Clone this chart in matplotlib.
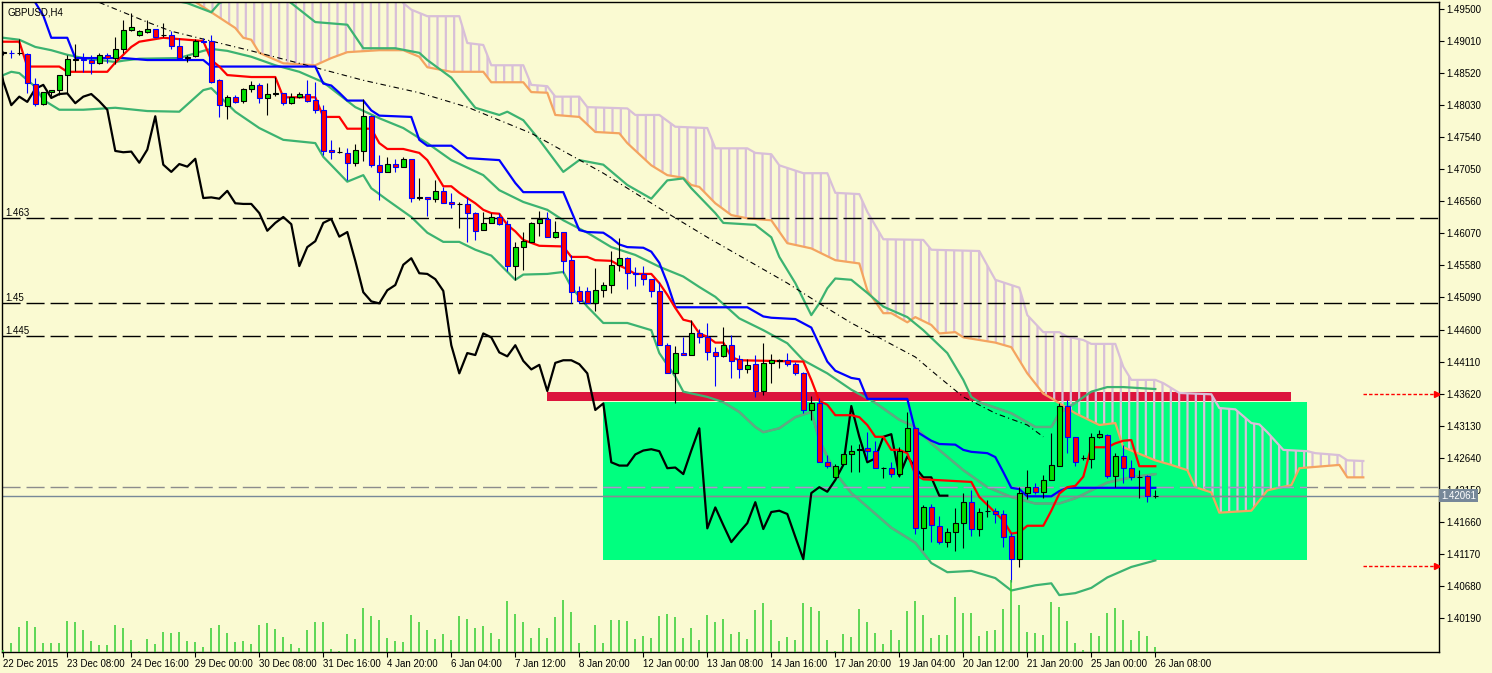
import numpy as np
import matplotlib
matplotlib.use("Agg")
import matplotlib.pyplot as plt
from matplotlib.patches import Rectangle
from matplotlib.transforms import blended_transform_factory

plt.rcParams['font.family'] = ['Liberation Sans', 'DejaVu Sans']
plt.rcParams['hatch.linewidth'] = 1.6
plt.rcParams['hatch.color'] = '#D8BFD8'

# ---- GBPUSD H4 candles (22 Dec 2015 00:00 .. 26 Jan 2016 08:00) ----
opens = [1.4883, 1.4883, 1.4882, 1.4881, 1.4836, 1.4805, 1.4823, 1.4826, 1.4849, 1.4872,
         1.4873, 1.4872, 1.4868, 1.4880, 1.4875, 1.4889, 1.4918, 1.4910, 1.4915, 1.4920,
         1.4910, 1.4910, 1.4894, 1.4875, 1.4878, 1.4901, 1.4901, 1.4842, 1.4802, 1.4816,
         1.4809, 1.4828, 1.4834, 1.4814, 1.4820, 1.4821, 1.4806, 1.4816, 1.4820, 1.4811,
         1.4796, 1.4735, 1.4731, 1.4730, 1.4715, 1.4733, 1.4786, 1.4712, 1.4701, 1.4713,
         1.4709, 1.4721, 1.4661, 1.4663, 1.4660, 1.4672, 1.4655, 1.4652, 1.4652, 1.4638,
         1.4612, 1.4623, 1.4632, 1.4621, 1.4557, 1.4586, 1.4594, 1.4623, 1.4629, 1.4602,
         1.4609, 1.4566, 1.4519, 1.4519, 1.4500, 1.4520, 1.4528, 1.4559, 1.4569, 1.4546,
         1.4545, 1.4537, 1.4519, 1.4436, 1.4393, 1.4424, 1.4421, 1.4454, 1.4448, 1.4425,
         1.4419, 1.4436, 1.4415, 1.4399, 1.4407, 1.4366, 1.4409, 1.4412, 1.4413, 1.4407,
         1.4393, 1.4337, 1.4347, 1.4257, 1.4234, 1.4254, 1.4269, 1.4276, 1.4279, 1.4274,
         1.4249, 1.4249, 1.4239, 1.4275, 1.4309, 1.4156, 1.4188, 1.4159, 1.4135, 1.4150,
         1.4164, 1.4196, 1.4155, 1.4182, 1.4183, 1.4178, 1.4144, 1.4109, 1.4210, 1.4219,
         1.4212, 1.4230, 1.4251, 1.4343, 1.4296, 1.4263, 1.4262, 1.4296, 1.4299, 1.4236,
         1.4266, 1.4249, 1.4234, 1.4236, 1.4206]
highs = [1.4886, 1.4888, 1.4904, 1.4883, 1.4845, 1.4823, 1.4826, 1.4849, 1.4880, 1.4897,
         1.4883, 1.4880, 1.4883, 1.4883, 1.4907, 1.4933, 1.4944, 1.4918, 1.4933, 1.4920,
         1.4929, 1.4917, 1.4906, 1.4880, 1.4904, 1.4906, 1.4910, 1.4843, 1.4819, 1.4819,
         1.4829, 1.4840, 1.4837, 1.4837, 1.4846, 1.4822, 1.4822, 1.4823, 1.4842, 1.4839,
         1.4803, 1.4750, 1.4739, 1.4738, 1.4743, 1.4813, 1.4788, 1.4727, 1.4724, 1.4721,
         1.4723, 1.4721, 1.4692, 1.4663, 1.4689, 1.4678, 1.4669, 1.4655, 1.4663, 1.4640,
         1.4640, 1.4638, 1.4638, 1.4627, 1.4594, 1.4609, 1.4624, 1.4641, 1.4640, 1.4626,
         1.4609, 1.4574, 1.4526, 1.4525, 1.4554, 1.4533, 1.4580, 1.4600, 1.4571, 1.4555,
         1.4557, 1.4537, 1.4533, 1.4440, 1.4435, 1.4448, 1.4474, 1.4461, 1.4470, 1.4433,
         1.4464, 1.4451, 1.4421, 1.4415, 1.4421, 1.4440, 1.4422, 1.4415, 1.4424, 1.4410,
         1.4395, 1.4358, 1.4356, 1.4268, 1.4255, 1.4269, 1.4283, 1.4285, 1.4303, 1.4289,
         1.4250, 1.4257, 1.4280, 1.4334, 1.4311, 1.4191, 1.4193, 1.4175, 1.4156, 1.4187,
         1.4210, 1.4214, 1.4187, 1.4199, 1.4187, 1.4184, 1.4149, 1.4219, 1.4245, 1.4225,
         1.4237, 1.4302, 1.4348, 1.4352, 1.4296, 1.4268, 1.4302, 1.4306, 1.4300, 1.4271,
         1.4283, 1.4260, 1.4246, 1.4237, 1.4214]
lows = [1.4880, 1.4875, 1.4880, 1.4822, 1.4802, 1.4803, 1.4817, 1.4819, 1.4822, 1.4855,
        1.4854, 1.4851, 1.4866, 1.4868, 1.4866, 1.4883, 1.4917, 1.4909, 1.4914, 1.4907,
        1.4907, 1.4889, 1.4872, 1.4869, 1.4877, 1.4898, 1.4837, 1.4785, 1.4782, 1.4806,
        1.4806, 1.4823, 1.4806, 1.4788, 1.4817, 1.4803, 1.4805, 1.4814, 1.4808, 1.4791,
        1.4727, 1.4720, 1.4730, 1.4689, 1.4710, 1.4717, 1.4709, 1.4658, 1.4701, 1.4701,
        1.4709, 1.4655, 1.4658, 1.4634, 1.4655, 1.4653, 1.4646, 1.4615, 1.4594, 1.4597,
        1.4612, 1.4623, 1.4620, 1.4549, 1.4536, 1.4551, 1.4594, 1.4603, 1.4602, 1.4600,
        1.4547, 1.4500, 1.4500, 1.4500, 1.4488, 1.4510, 1.4516, 1.4549, 1.4522, 1.4526,
        1.4528, 1.4510, 1.4436, 1.4393, 1.4347, 1.4421, 1.4421, 1.4439, 1.4413, 1.4374,
        1.4418, 1.4386, 1.4386, 1.4393, 1.4357, 1.4360, 1.4378, 1.4401, 1.4404, 1.4390,
        1.4332, 1.4321, 1.4257, 1.4248, 1.4232, 1.4254, 1.4242, 1.4242, 1.4260, 1.4248,
        1.4233, 1.4234, 1.4234, 1.4275, 1.4148, 1.4123, 1.4135, 1.4132, 1.4127, 1.4121,
        1.4126, 1.4145, 1.4145, 1.4173, 1.4164, 1.4127, 1.4074, 1.4097, 1.4201, 1.4208,
        1.4202, 1.4230, 1.4251, 1.4271, 1.4251, 1.4260, 1.4248, 1.4294, 1.4233, 1.4219,
        1.4225, 1.4230, 1.4202, 1.4196, 1.4202]
closes = [1.4884, 1.4882, 1.4883, 1.4837, 1.4805, 1.4823, 1.4826, 1.4849, 1.4874, 1.4873,
          1.4872, 1.4868, 1.4880, 1.4875, 1.4889, 1.4918, 1.4923, 1.4917, 1.4920, 1.4907,
          1.4910, 1.4894, 1.4875, 1.4877, 1.4901, 1.4900, 1.4839, 1.4803, 1.4816, 1.4808,
          1.4828, 1.4834, 1.4814, 1.4820, 1.4821, 1.4806, 1.4816, 1.4820, 1.4809, 1.4796,
          1.4733, 1.4731, 1.4732, 1.4715, 1.4735, 1.4786, 1.4712, 1.4701, 1.4713, 1.4709,
          1.4721, 1.4661, 1.4662, 1.4660, 1.4672, 1.4653, 1.4652, 1.4652, 1.4638, 1.4611,
          1.4623, 1.4632, 1.4621, 1.4557, 1.4586, 1.4595, 1.4623, 1.4629, 1.4602, 1.4609,
          1.4565, 1.4517, 1.4503, 1.4500, 1.4520, 1.4528, 1.4559, 1.4569, 1.4546, 1.4545,
          1.4537, 1.4519, 1.4436, 1.4393, 1.4424, 1.4421, 1.4454, 1.4448, 1.4425, 1.4419,
          1.4436, 1.4412, 1.4399, 1.4406, 1.4366, 1.4409, 1.4413, 1.4413, 1.4407, 1.4393,
          1.4337, 1.4347, 1.4257, 1.4252, 1.4252, 1.4269, 1.4275, 1.4277, 1.4274, 1.4248,
          1.4249, 1.4239, 1.4275, 1.4309, 1.4156, 1.4188, 1.4161, 1.4135, 1.4150, 1.4164,
          1.4196, 1.4155, 1.4181, 1.4183, 1.4178, 1.4143, 1.4109, 1.4210, 1.4219, 1.4212,
          1.4230, 1.4253, 1.4343, 1.4296, 1.4257, 1.4263, 1.4296, 1.4300, 1.4236, 1.4266,
          1.4249, 1.4234, 1.4234, 1.4206, 1.4206]
volumes = [120,
           560, 1520, 1860, 1500, 560, 560, 560, 1860, 1800, 1320,
           660, 420, 420, 1620, 1440, 720, 60, 780, 480, 1200,
           1140, 1200, 660, 600, 300, 1440, 1620, 1140, 600, 660,
           480, 1620, 1740, 1380, 900, 480, 240, 1320, 1800, 1800,
           180, 60, 1080, 780, 2640, 2160, 1920, 840, 660, 600,
           2220, 1800, 1320, 780, 1080, 720, 2160, 1980, 1440, 1560,
           1140, 780, 3060, 2280, 1800, 840, 1440, 840, 2100, 3120,
           2400, 540, 60, 1620, 540, 1920, 1920, 1860, 780, 960,
           840, 2160, 2280, 2100, 840, 1440, 720, 2220, 1800, 1980,
           1080, 1200, 780,
           2520, 2920, 1920, 660, 900, 720, 2920, 2700, 2460, 720,
           60, 1080, 900, 2580, 1800, 1140, 480, 1320, 720, 2460,
           3060, 2220, 840, 1020, 1020, 3300, 2340, 2340, 960, 1260,
           1320, 2580, 4320, 2820, 1200, 1140, 1020, 3000, 2700, 1860,
           540, 120, 1140, 960, 2340, 2640, 1920, 720, 1260, 960, 300]

x_labels = ["22 Dec 2015", "23 Dec 08:00", "24 Dec 16:00", "29 Dec 00:00", "30 Dec 08:00",
            "31 Dec 16:00", "4 Jan 20:00", "6 Jan 04:00", "7 Jan 12:00", "8 Jan 20:00",
            "12 Jan 00:00", "13 Jan 08:00", "14 Jan 16:00", "17 Jan 20:00", "19 Jan 04:00",
            "20 Jan 12:00", "21 Jan 20:00", "25 Jan 00:00", "26 Jan 08:00"]
price_ticks = [1.49500, 1.49010, 1.48520, 1.48030, 1.47540, 1.47050, 1.46560, 1.46070,
               1.45580, 1.45090, 1.44600, 1.44110, 1.43620, 1.43130, 1.42640, 1.42150,
               1.41660, 1.41170, 1.40680, 1.40190]

# ---- Ichimoku (bar index -> price) ----
tenkan_idx = [0, 2, 3, 7, 8, 13, 14, 15, 16, 17, 20, 25, 26, 27, 28, 31, 34, 35, 39, 40,
              42, 43, 46, 47, 48, 50, 52, 53, 54, 55, 56, 57, 59, 60, 61, 62, 63, 64, 65, 67,
              70, 71, 73, 74, 76, 77, 78, 79, 81, 82, 83, 84, 85, 86, 87, 88, 89, 90, 91, 92,
              100, 101, 102, 103, 104, 106, 107, 108, 109, 110, 111, 112, 113, 114, 115, 118, 121, 122, 125, 126,
              127, 128, 130, 131, 132, 133, 134, 135, 136, 138, 139, 140, 141, 142, 144]
tenkan = [1.4900, 1.4900, 1.4862, 1.4862, 1.4854, 1.4854, 1.4868, 1.4880, 1.4892, 1.4900,
          1.4906, 1.4901, 1.4872, 1.4862, 1.4849, 1.4846, 1.4846, 1.4815, 1.4815, 1.4785,
          1.4785, 1.4767, 1.4767, 1.4745, 1.4736, 1.4736, 1.4730, 1.4719, 1.4699, 1.4679,
          1.4679, 1.4669, 1.4653, 1.4643, 1.4638, 1.4637, 1.4620, 1.4610, 1.4597, 1.4588,
          1.4587, 1.4571, 1.4571, 1.4566, 1.4565, 1.4558, 1.4552, 1.4545, 1.4545, 1.4531,
          1.4513, 1.4493, 1.4475, 1.4472, 1.4454, 1.4449, 1.4440, 1.4440, 1.4418, 1.4413,
          1.4411, 1.4383, 1.4351, 1.4345, 1.4329, 1.4329, 1.4326, 1.4314, 1.4296, 1.4296,
          1.4276, 1.4276, 1.4271, 1.4238, 1.4231, 1.4229, 1.4227, 1.4204, 1.4168, 1.4148,
          1.4150, 1.4160, 1.4160, 1.4183, 1.4209, 1.4219, 1.4221, 1.4235, 1.4280, 1.4280,
          1.4286, 1.4290, 1.4291, 1.4251, 1.4251]
kijun_idx = [0, 3, 4, 5, 6, 8, 9, 15, 18, 25, 26, 39, 40, 41, 42, 43, 45, 46, 47, 51,
             52, 53, 56, 58, 62, 64, 65, 70, 71, 72, 73, 75, 76, 77, 78, 80, 81, 82, 83, 84,
             93, 94, 95, 96, 99, 101, 102, 103, 104, 106, 107, 108, 113, 114, 116, 117, 119, 120, 121, 123,
             124, 125, 126, 127, 128, 131, 132, 133, 144]
kijun = [1.4985, 1.4978, 1.4960, 1.4940, 1.4906, 1.4906, 1.4875, 1.4875, 1.4872, 1.4872,
         1.4862, 1.4862, 1.4836, 1.4833, 1.4822, 1.4810, 1.4810, 1.4795, 1.4787, 1.4785,
         1.4750, 1.4741, 1.4741, 1.4722, 1.4719, 1.4684, 1.4670, 1.4670, 1.4641, 1.4612,
         1.4609, 1.4608, 1.4600, 1.4590, 1.4586, 1.4585, 1.4579, 1.4562, 1.4531, 1.4494,
         1.4494, 1.4487, 1.4480, 1.4478, 1.4476, 1.4463, 1.4437, 1.4411, 1.4397, 1.4386,
         1.4384, 1.4354, 1.4354, 1.4305, 1.4290, 1.4285, 1.4284, 1.4276, 1.4273, 1.4271,
         1.4265, 1.4242, 1.4218, 1.4216, 1.4205, 1.4205, 1.4213, 1.4218, 1.4218]
spanA_idx = [0, 10, 20, 24, 29, 30, 31, 32, 35, 39, 41, 43, 47, 50, 52, 53, 56, 60, 61, 65,
             66, 68, 69, 72, 74, 77, 78, 81, 83, 85, 86, 87, 89, 91, 93, 96, 98, 101, 104, 107,
             108, 110, 111, 113, 114, 116, 117, 119, 120, 122, 124, 126, 128, 130, 131, 134, 137, 139, 140, 144,
             146, 148, 149, 151, 152, 156, 158, 159, 161, 162, 167, 168, 170]
spanA = [1.5010, 1.5000, 1.4985, 1.4961, 1.4921, 1.4906, 1.4903, 1.4883, 1.4867, 1.4864,
         1.4875, 1.4884, 1.4887, 1.4887, 1.4877, 1.4861, 1.4854, 1.4854, 1.4838, 1.4838,
         1.4823, 1.4822, 1.4788, 1.4785, 1.4762, 1.4760, 1.4745, 1.4711, 1.4696, 1.4692,
         1.4681, 1.4678, 1.4653, 1.4635, 1.4630, 1.4627, 1.4592, 1.4584, 1.4566, 1.4561,
         1.4520, 1.4485, 1.4485, 1.4471, 1.4479, 1.4467, 1.4454, 1.4456, 1.4448, 1.4444,
         1.4440, 1.4433, 1.4393, 1.4362, 1.4355, 1.4332, 1.4314, 1.4317, 1.4280, 1.4260,
         1.4253, 1.4245, 1.4219, 1.4211, 1.4180, 1.4183, 1.4214, 1.4217, 1.4222, 1.4248,
         1.4253, 1.4234, 1.4234]
spanB_idx = [0, 25, 40, 49, 50, 51, 53, 57, 58, 60, 61, 65, 66, 68, 69, 72, 73, 78, 79, 82,
             84, 88, 89, 93, 94, 96, 97, 98, 100, 103, 104, 107, 108, 110, 115, 116, 122, 124, 127, 128,
             130, 132, 133, 135, 136, 139, 140, 141, 144, 145, 147, 151, 152, 154, 156, 157, 158, 160, 163, 164,
             167, 168, 170]
spanB = [1.5030, 1.5010, 1.4995, 1.4975, 1.4959, 1.4949, 1.4939, 1.4939, 1.4898, 1.4895,
         1.4864, 1.4864, 1.4834, 1.4832, 1.4816, 1.4816, 1.4800, 1.4798, 1.4788, 1.4788,
         1.4770, 1.4768, 1.4737, 1.4737, 1.4730, 1.4728, 1.4711, 1.4707, 1.4699, 1.4699,
         1.4669, 1.4667, 1.4640, 1.4598, 1.4597, 1.4582, 1.4580, 1.4536, 1.4524, 1.4482,
         1.4456, 1.4456, 1.4449, 1.4444, 1.4438, 1.4438, 1.4403, 1.4383, 1.4383, 1.4378,
         1.4363, 1.4361, 1.4340, 1.4338, 1.4317, 1.4315, 1.4303, 1.4276, 1.4274, 1.4271,
         1.4268, 1.4260, 1.4259]
chikou_shift = 26

# ---- Bollinger bands ----
upper_idx = [0, 7, 18, 23, 26, 27, 31, 34, 36, 39, 43, 45, 49, 52, 53, 56, 59, 62, 63, 65,
             67, 70, 72, 75, 78, 81, 83, 85, 86, 89, 90, 94, 96, 97, 99, 101, 102, 103, 104, 106,
             108, 110, 113, 115, 118, 120, 121, 122, 126, 129, 131, 132, 134, 136, 138, 140, 144]
upper = [1.4968, 1.4976, 1.4971, 1.4959, 1.4945, 1.4959, 1.4979, 1.4976, 1.4959, 1.4930,
         1.4926, 1.4890, 1.4890, 1.4883, 1.4872, 1.4845, 1.4799, 1.4788, 1.4793, 1.4780,
         1.4750, 1.4701, 1.4719, 1.4712, 1.4681, 1.4660, 1.4688, 1.4691, 1.4676, 1.4638,
         1.4623, 1.4620, 1.4601, 1.4571, 1.4531, 1.4482, 1.4500, 1.4523, 1.4538, 1.4536,
         1.4516, 1.4495, 1.4479, 1.4459, 1.4424, 1.4383, 1.4357, 1.4349, 1.4332, 1.4311,
         1.4311, 1.4332, 1.4348, 1.4365, 1.4372, 1.4372, 1.4369]
mid_idx = [0, 2, 4, 6, 8, 10, 12, 14, 15, 17, 22, 25, 26, 28, 31, 34, 37, 40, 42, 44,
           47, 50, 53, 56, 60, 62, 65, 68, 70, 73, 76, 79, 82, 85, 87, 89, 92, 95, 98, 100,
           103, 106, 109, 112, 114, 116, 120, 123, 126, 129, 132, 134, 136, 138, 141, 144]
mid = [1.4906, 1.4903, 1.4892, 1.4887, 1.4880, 1.4875, 1.4872, 1.4869, 1.4871, 1.4874,
       1.4875, 1.4886, 1.4889, 1.4886, 1.4877, 1.4864, 1.4854, 1.4838, 1.4819, 1.4800,
       1.4783, 1.4768, 1.4745, 1.4719, 1.4696, 1.4673, 1.4655, 1.4643, 1.4627, 1.4608,
       1.4586, 1.4574, 1.4556, 1.4541, 1.4525, 1.4510, 1.4477, 1.4459, 1.4439, 1.4413,
       1.4393, 1.4368, 1.4348, 1.4322, 1.4311, 1.4286, 1.4245, 1.4219, 1.4204, 1.4194,
       1.4194, 1.4202, 1.4214, 1.4226, 1.4234, 1.4239]
low_idx = [0, 1, 2, 4, 5, 7, 10, 14, 18, 22, 25, 26, 29, 32, 35, 39, 40, 43, 45, 46,
           48, 51, 53, 55, 57, 59, 61, 64, 65, 68, 70, 71, 73, 75, 78, 81, 82, 84, 85, 88,
           90, 92, 94, 95, 97, 99, 101, 102, 104, 106, 108, 111, 114, 116, 118, 121, 124, 126, 129, 131,
           132, 134, 136, 138, 141, 144]
lower = [1.4849, 1.4854, 1.4852, 1.4831, 1.4811, 1.4796, 1.4796, 1.4799, 1.4794, 1.4793,
         1.4826, 1.4829, 1.4793, 1.4768, 1.4750, 1.4745, 1.4724, 1.4686, 1.4696, 1.4676,
         1.4658, 1.4632, 1.4608, 1.4594, 1.4594, 1.4582, 1.4573, 1.4536, 1.4544, 1.4545,
         1.4548, 1.4525, 1.4495, 1.4470, 1.4470, 1.4459, 1.4424, 1.4388, 1.4365, 1.4357,
         1.4349, 1.4334, 1.4311, 1.4303, 1.4309, 1.4326, 1.4334, 1.4291, 1.4241, 1.4210,
         1.4189, 1.4157, 1.4134, 1.4103, 1.4089, 1.4091, 1.4080, 1.4061, 1.4069, 1.4072,
         1.4054, 1.4057, 1.4065, 1.4081, 1.4097, 1.4107]

# slow moving average (dash-dot)
trend_idx = [12, 15, 18, 21, 23, 27, 31, 37, 45, 52, 58, 66, 75, 83, 88, 94, 98, 102, 106, 110,
             114, 117, 120, 124, 128, 130]
trend = [1.4960, 1.4945, 1.4930, 1.4916, 1.4910, 1.4898, 1.4886, 1.4867, 1.4841, 1.4822,
         1.4800, 1.4760, 1.4699, 1.4638, 1.4601, 1.4559, 1.4531, 1.4500, 1.4470, 1.4444,
         1.4418, 1.4387, 1.4357, 1.4332, 1.4314, 1.4296]

# ---- drawn objects ----
levels = [1.463, 1.45, 1.445]
level_labels = ["1.463", "1.45", "1.445"]
grey_level = 1.4220
last_price = 1.42061
red_zone = (68, 161, 1.4350, 1.4365)      # bar from, bar to, price low, price high
green_zone = (75, 163, 1.4107, 1.4349)
alert_prices = [1.4362, 1.4098]
alert_from, alert_to = 170, 179.2

BG = '#FAFAD2'
BAND = '#3CB371'
BAND_IN = '#63A883'
THISTLE = '#D8BFD8'

fig = plt.figure(figsize=(14.92, 6.73), dpi=100, facecolor=BG)
ax = fig.add_axes([2 / 1492, 21 / 673, 1437 / 1492, 650 / 673])
ax.set_facecolor(BG)

# rectangles
rr = Rectangle((red_zone[0], red_zone[2]), red_zone[1] - red_zone[0], red_zone[3] - red_zone[2],
               facecolor='#DC143C', edgecolor='none', zorder=1)
gr = Rectangle((green_zone[0], green_zone[2]), green_zone[1] - green_zone[0], green_zone[3] - green_zone[2],
               facecolor='#00FF7F', edgecolor='none', zorder=1)
ax.add_patch(rr)
ax.add_patch(gr)

# cloud
cx = np.concatenate([spanA_idx, spanB_idx[::-1]])
cy = np.concatenate([spanA, spanB[::-1]])
ax.fill(cx, cy, facecolor='none', edgecolor=THISTLE, linewidth=0, hatch='||', zorder=1.5)
ax.plot(spanB_idx, spanB, color=THISTLE, lw=1.6, zorder=1.6)
ax.plot(spanA_idx, spanA, color='#F4A460', lw=1.6, zorder=1.6)


def two_tone(xs, ys, c_out, c_in, z, **kw):
    ax.plot(xs, ys, color=c_out, zorder=z, **kw)
    ln, = ax.plot(xs, ys, color=c_in, zorder=z + 0.05, **kw)
    ln.set_clip_path(gr)


# bollinger
for bx, by in [(upper_idx, upper), (mid_idx, mid), (low_idx, lower)]:
    two_tone(bx, by, BAND, BAND_IN, 1.8, lw=1.6)

# horizontal lines
xmin, xmax = -0.16, 179.46
for lv, lb in zip(levels, level_labels):
    ax.plot([xmin, xmax], [lv, lv], color='black', lw=1, dashes=(13, 4.3), zorder=1.9)
    ax.text(0.002, lv, lb, transform=blended_transform_factory(ax.transAxes, ax.transData),
            fontsize=7, va='bottom', ha='left', zorder=20)
two_tone([xmin, xmax], [grey_level, grey_level], '#8C8C8C', '#B090D0', 1.9, lw=1, dashes=(13, 4.3))
two_tone([xmin, xmax], [last_price, last_price], '#778899', '#8A8A95', 1.9, lw=1)

# slow MA
ax.plot(trend_idx, trend, color='black', lw=0.8, linestyle=(0, (5, 3, 1, 3)), zorder=1.95)

# chikou (close drawn 26 bars back)
n = len(closes)
bars = np.arange(n)
ax.plot(bars - chikou_shift, closes, color='black', lw=1.6, zorder=2)

ax.plot(kijun_idx, kijun, color='#0000FF', lw=1.6, zorder=2.2)
ax.plot(tenkan_idx, tenkan, color='#FF0000', lw=1.6, zorder=2.2)

# candles
o = np.array(opens)
c = np.array(closes)
h = np.array(highs)
l = np.array(lows)
up = c >= o
ax.vlines(bars[up], l[up], h[up], color='black', lw=0.8, zorder=3)
ax.vlines(bars[~up], l[~up], h[~up], color='#0000FF', lw=0.8, zorder=3)
ax.bar(bars[up], (c - o)[up], bottom=o[up], width=0.62, color='#00E000',
       edgecolor='black', linewidth=0.8, zorder=3.1)
ax.bar(bars[~up], (c - o)[~up], bottom=o[~up], width=0.62, color='#FF0000',
       edgecolor='#0000FF', linewidth=0.8, zorder=3.1)

# alerts
for ap in alert_prices:
    ax.plot([alert_from, alert_to], [ap, ap], color='#FF0000', lw=1, dashes=(2.5, 1.5), zorder=4)
    ax.plot([alert_to], [ap], marker='>', color='#FF0000', markersize=4, zorder=4)

ax.set_xlim(xmin, xmax)
ax.set_ylim(1.39670, 1.49607)

# volumes
axv = ax.twinx()
axv.vlines(bars, 0, volumes, color='#32CD32', lw=1.1)
axv.set_ylim(0, 39000)
axv.axis('off')

ax.yaxis.tick_right()
ax.set_yticks(price_ticks)
ax.set_yticklabels(['%.5f' % p for p in price_ticks])
ax.set_xticks(np.arange(0, n, 8))
ax.set_xticklabels(x_labels, ha='left')
ax.tick_params(axis='y', which='both', direction='out', length=3.5, width=0.8, pad=2,
               labelsize=7, left=False, right=True)
ax.tick_params(axis='x', direction='out', length=3.5, width=0.8, pad=1.5, labelsize=7)
for sp in ax.spines.values():
    sp.set_color('black')
    sp.set_linewidth(1)

ax.text(1.0015, last_price, '1.42061', transform=blended_transform_factory(ax.transAxes, ax.transData),
        fontsize=7, color='white', va='center', ha='left', zorder=30, clip_on=False,
        bbox=dict(boxstyle='square,pad=0.18', facecolor='#778899', edgecolor='none'))
ax.text(0.004, 0.992, 'GBPUSD,H4', transform=ax.transAxes, fontsize=7, va='top', ha='left', zorder=20)

fig.savefig('out.png', dpi=100, facecolor=BG)
